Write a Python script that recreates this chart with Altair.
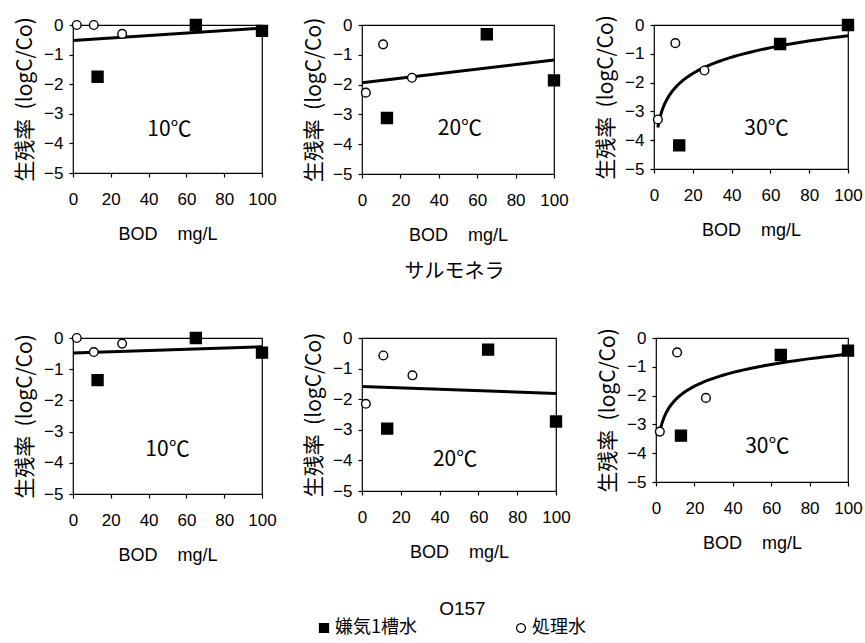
import altair as alt
import pandas as pd

# ---- data ----
SERIES = ["嫌気1槽水", "処理水"]
TEMPS = ["10℃", "20℃", "30℃"]
BOD_ANAEROBIC = [13, 65, 100]   # 嫌気1槽水 BOD mg/L
BOD_TREATED = [2, 11, 26]       # 処理水 BOD mg/L

# Salmonella survival (logC/Co)
SAL_ANA_10 = [-1.75, 0.0, -0.2]
SAL_TRE_10 = [0.0, 0.0, -0.3]
SAL_ANA_20 = [-3.12, -0.31, -1.86]
SAL_TRE_20 = [-2.27, -0.65, -1.77]
SAL_ANA_30 = [-4.18, -0.66, 0.0]
SAL_TRE_30 = [-3.28, -0.63, -1.58]

# O157 survival (logC/Co)
O157_ANA_10 = [-1.35, 0.0, -0.47]
O157_TRE_10 = [0.0, -0.45, -0.18]
O157_ANA_20 = [-2.96, -0.38, -2.73]
O157_TRE_20 = [-2.15, -0.57, -1.22]
O157_ANA_30 = [-3.39, -0.59, -0.44]
O157_TRE_30 = [-3.25, -0.5, -2.08]

FIT = ["linear", "linear", "log"]
X_TICKS = [0, 20, 40, 60, 80, 100]
Y_TICKS = [0, -1, -2, -3, -4, -5]

# annotation placement (data coords) and panel sizes
LABEL_POS_TOP = [(51, -3.55), (51, -3.5), (58, -3.6)]
LABEL_POS_BOT = [(50, -3.6), (48, -4.0), (58, -3.8)]
SIZES_TOP = [(189, 148), (192, 149), (194, 144)]
SIZES_BOT = [(189, 156), (194, 153), (192, 144)]

LATIN = "Liberation Sans, Noto Sans CJK JP"
CJK = "Noto Sans CJK JP"
NB = "\u00a0"


def frame(ana, tre):
    rows = []
    for b, v in zip(BOD_ANAEROBIC, ana):
        rows.append({"BOD": b, "v": v, "series": SERIES[0]})
    for b, v in zip(BOD_TREATED, tre):
        rows.append({"BOD": b, "v": v, "series": SERIES[1]})
    return pd.DataFrame(rows)


SHAPE_SCALE = alt.Scale(domain=SERIES, range=["square", "circle"])
FILL_SCALE = alt.Scale(domain=SERIES, range=["black", "white"])
STROKE_SCALE = alt.Scale(domain=SERIES, range=["black", "black"])
LEGEND = alt.Legend(
    title=None, orient="none", legendX=242, legendY=594, direction="horizontal",
    symbolStrokeColor="black", symbolStrokeWidth=1.3,
)

X_AXIS = alt.Axis(values=X_TICKS, title="BOD" + NB * 4 + "mg/L", labelOverlap=False,
                  labelFlush=False, tickSize=4, ticks=True, labelPadding=14,
                  titlePadding=18)
Y_AXIS = alt.Axis(values=Y_TICKS, title="生残率" + NB * 2 + "(logC/Co)", labelOverlap=False,
                  labelFlush=False, tickSize=4, ticks=True, labelPadding=6,
                  titlePadding=8)
X_SCALE = alt.Scale(domain=[0, 100], nice=False, zero=False)
Y_SCALE = alt.Scale(domain=[-5, 0], nice=False)


def panel(df, temp, method, size, pos):
    w, h = size
    x = alt.X("BOD:Q", scale=X_SCALE, axis=X_AXIS)
    y = alt.Y("v:Q", scale=Y_SCALE, axis=Y_AXIS)
    base = alt.Chart(df)
    if method == "linear":
        reg = base.transform_regression("BOD", "v", method="linear", extent=[0, 100])
    else:
        reg = base.transform_regression("BOD", "v", method="log")
    line = reg.mark_line(color="black", strokeWidth=3).encode(x=x, y=y)
    layers = [line]
    for name, sz in zip(SERIES, [120, 75]):
        layers.append(
            base.transform_filter(alt.datum.series == name).mark_point(
                filled=True, opacity=1, strokeWidth=1.4, size=sz
            ).encode(
                x=x, y=y,
                shape=alt.Shape("series:N", scale=SHAPE_SCALE, legend=LEGEND),
                fill=alt.Fill("series:N", scale=FILL_SCALE, legend=LEGEND),
                stroke=alt.Stroke("series:N", scale=STROKE_SCALE, legend=LEGEND),
            )
        )
    lab = alt.Chart(pd.DataFrame({"t": [temp], "BOD": [pos[0]], "v": [pos[1]]})).mark_text(
        font=CJK, fontSize=21, color="black").encode(x=x, y=y, text="t:N")
    layers.append(lab)
    return alt.layer(*layers).properties(width=w, height=h)


sal = [frame(SAL_ANA_10, SAL_TRE_10), frame(SAL_ANA_20, SAL_TRE_20), frame(SAL_ANA_30, SAL_TRE_30)]
o157 = [frame(O157_ANA_10, O157_TRE_10), frame(O157_ANA_20, O157_TRE_20), frame(O157_ANA_30, O157_TRE_30)]

row1 = alt.hconcat(
    *[panel(sal[i], TEMPS[i], FIT[i], SIZES_TOP[i], LABEL_POS_TOP[i]) for i in range(3)],
    spacing=100, bounds="flush",
    title=alt.TitleParams("サルモネラ", orient="bottom", font=CJK, fontSize=20,
                          fontWeight="normal", offset=17, anchor="middle", dx=16),
)
row2 = alt.hconcat(
    *[panel(o157[i], TEMPS[i], FIT[i], SIZES_BOT[i], LABEL_POS_BOT[i]) for i in range(3)],
    spacing=100, bounds="flush",
    title=alt.TitleParams("O157", orient="bottom", font=LATIN, fontSize=19,
                          fontWeight="normal", offset=35, anchor="middle", dx=24),
)

chart = alt.vconcat(row1, row2, spacing=45).properties(
    padding={"left": 14, "top": 14, "right": 0, "bottom": 30}
).configure_view(stroke="black", strokeWidth=1.2).configure_axis(
    domain=False, grid=False, tickColor="black", tickWidth=1.2,
    labelFont=LATIN, labelFontSize=17, labelColor="black",
    titleFont=LATIN, titleFontSize=18, titleFontWeight="normal", titleColor="black",
).configure_axisY(
    titleFont=CJK, titleFontSize=21,
).configure_legend(
    labelFont=CJK, labelFontSize=18, labelColor="black",
    symbolSize=80, columnPadding=95, labelOffset=2,
)

chart.save("out.html", embed_options={"renderer": "svg", "actions": False})
